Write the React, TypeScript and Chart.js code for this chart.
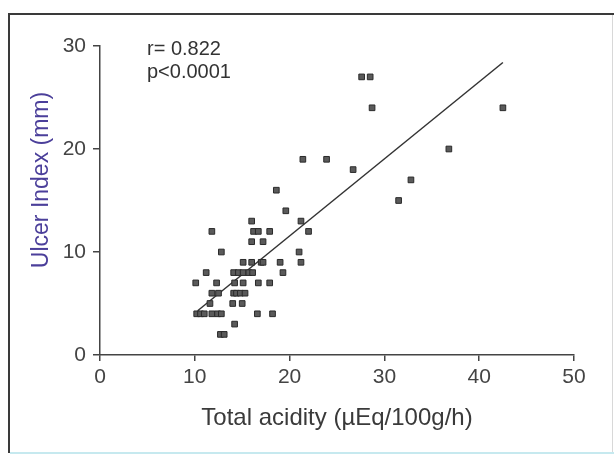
import React, { useEffect, useRef } from "react";
import { Chart, registerables } from "chart.js";

Chart.register(...registerables);

const acidity = [
  10.1, 11.2, 11.8, 12.8, 12.3, 11.8, 12.5, 11.6, 10.2, 10.6, 11.0, 11.8, 12.4, 12.8,
  12.7, 13.1, 14.2, 14.0, 15.0, 14.1, 14.4, 14.8, 15.3, 14.2, 15.1, 14.1, 14.6, 15.1,
  15.7, 16.1, 15.1, 16.0, 16.0, 17.2, 16.0, 16.2, 16.7, 17.9, 16.7, 16.6, 18.2, 17.9,
  17.0, 17.2, 19.0, 19.3, 18.6, 19.6, 21.0, 21.2, 21.2, 22.0, 21.4, 23.9, 26.7, 27.6,
  28.5, 28.7, 31.5, 32.8, 36.8, 42.5,
];
const ulcerIndex = [
  7, 8, 12, 10, 7, 6, 6, 5, 4, 4, 4, 4, 4, 4,
  2, 2, 3, 5, 5, 6, 6, 6, 6, 7, 7, 8, 8, 8,
  8, 8, 9, 9, 11, 11, 13, 12, 12, 12, 7, 4, 4, 7,
  9, 9, 9, 8, 16, 14, 10, 9, 13, 12, 19, 19, 18, 27,
  27, 24, 15, 17, 20, 24,
];
const fitX = [10.3, 42.5];
const fitY = [4.3, 28.4];
const xTicks = [0, 10, 20, 30, 40, 50];
const yTicks = [0, 10, 20, 30];
const statLines = ["r= 0.822", "p<0.0001"];
const xTitle = "Total acidity (\u00B5Eq/100g/h)";
const yTitle = "Ulcer Index (mm)";

const FONT = "Arial, 'Liberation Sans', sans-serif";

export default function App() {
  const ref = useRef<HTMLCanvasElement | null>(null);

  useEffect(() => {
    document.body.style.margin = "0";
    const canvas = ref.current;
    if (!canvas) return;

    const decor = {
      id: "decor",
      afterDraw(chart: any) {
        const ctx = chart.ctx;
        ctx.save();
        // frame
        ctx.strokeStyle = "#3a3a3a";
        ctx.lineWidth = 2;
        ctx.beginPath();
        ctx.moveTo(8, 14);
        ctx.lineTo(614, 14);
        ctx.moveTo(9, 13);
        ctx.lineTo(9, 453);
        ctx.stroke();
        ctx.strokeStyle = "#c6e9ef";
        ctx.lineWidth = 2;
        ctx.beginPath();
        ctx.moveTo(10, 453);
        ctx.lineTo(614, 453);
        ctx.stroke();
        ctx.strokeStyle = "#d8d8d8";
        ctx.lineWidth = 1;
        ctx.beginPath();
        ctx.moveTo(612.5, 15);
        ctx.lineTo(612.5, 452);
        ctx.stroke();
        // stats text
        ctx.fillStyle = "#333";
        ctx.font = "20px " + FONT;
        ctx.textAlign = "left";
        ctx.textBaseline = "alphabetic";
        statLines.forEach((t, i) => ctx.fillText(t, 147, 55 + i * 23));
        // y title
        ctx.translate(42, 180);
        ctx.rotate(-Math.PI / 2);
        ctx.fillStyle = "#4b3f9a";
        ctx.font = "23px " + FONT;
        ctx.textAlign = "center";
        ctx.textBaseline = "middle";
        ctx.fillText(yTitle, 0, 0);
        ctx.restore();
      },
    };

    const chart = new Chart(canvas, {
      type: "scatter",
      data: {
        datasets: [
          {
            label: "data",
            data: acidity.map((x, i) => ({ x, y: ulcerIndex[i] })),
            pointStyle: "rect",
            pointRadius: 4,
            backgroundColor: "#5a5a5a",
            borderColor: "#2a2a2a",
            borderWidth: 1,
          },
          {
            label: "fit",
            type: "line",
            data: fitX.map((x, i) => ({ x, y: fitY[i] })),
            showLine: true,
            pointRadius: 0,
            borderColor: "#333",
            borderWidth: 1.5,
            fill: false,
          } as any,
        ],
      },
      plugins: [decor],
      options: {
        animation: false,
        responsive: false,
        maintainAspectRatio: false,
        layout: { padding: { left: 0, top: 46, right: 40, bottom: 0 } },
        plugins: {
          legend: { display: false },
          tooltip: { enabled: false },
        },
        scales: {
          x: {
            type: "linear",
            min: 0,
            max: 50,
            afterFit: (s: any) => {
              s.height = 100;
            },
            afterBuildTicks: (s: any) => {
              s.ticks = xTicks.map((v) => ({ value: v }));
            },
            grid: {
              display: true,
              drawOnChartArea: false,
              drawTicks: true,
              tickLength: 6,
              color: "#444",
              lineWidth: 1.5,
            },
            border: { display: true, color: "#444", width: 1.5 },
            ticks: {
              color: "#444",
              font: { size: 21, family: FONT },
              padding: 4,
              maxRotation: 0,
            },
            title: {
              display: true,
              text: xTitle,
              color: "#3a3a3a",
              font: { size: 24, family: FONT },
              padding: { top: 0, bottom: 22 },
            },
          },
          y: {
            type: "linear",
            min: 0,
            max: 30,
            afterFit: (s: any) => {
              s.width = 100;
            },
            afterBuildTicks: (s: any) => {
              s.ticks = yTicks.map((v) => ({ value: v }));
            },
            grid: {
              display: true,
              drawOnChartArea: false,
              drawTicks: true,
              tickLength: 7,
              color: "#444",
              lineWidth: 1.5,
            },
            border: { display: true, color: "#444", width: 1.5 },
            ticks: {
              color: "#444",
              font: { size: 21, family: FONT },
              padding: 7,
            },
          },
        },
      },
    });
    return () => chart.destroy();
  }, []);

  return (
    <div style={{ width: 614, height: 455, position: "relative" }}>
      <canvas ref={ref} width={614} height={455} style={{ display: "block" }} />
    </div>
  );
}
